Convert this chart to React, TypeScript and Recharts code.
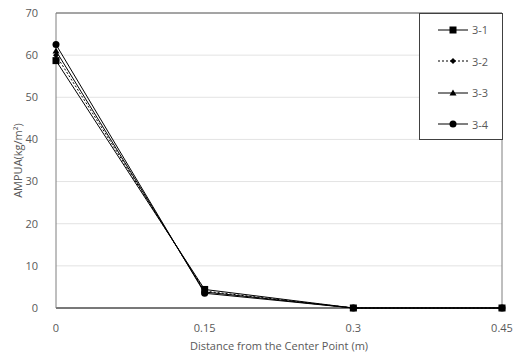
import React from "react";
import {
  LineChart,
  Line,
  XAxis,
  YAxis,
  CartesianGrid,
  ReferenceLine,
} from "recharts";

const distances = [0, 0.15, 0.3, 0.45];
const s31 = [58.7, 4.4, 0, 0];
const s32 = [60.0, 4.0, 0, 0];
const s33 = [61.0, 3.8, 0, 0];
const s34 = [62.5, 3.5, 0, 0];
const xTicks = [0, 0.15, 0.3, 0.45];
const yTicks = [0, 10, 20, 30, 40, 50, 60, 70];

const seriesNames = ["3-1", "3-2", "3-3", "3-4"];
const shapes = ["square", "diamond", "triangle", "circle"];
const dashes = ["", "2 2", "", ""];

const data = distances.map((d, i) => ({
  x: d,
  s1: s31[i],
  s2: s32[i],
  s3: s33[i],
  s4: s34[i],
}));

const FONT = "'Open Sans', 'Noto Sans', sans-serif";
const TEXT = "#595959";

const Marker = ({ shape, cx, cy }: { shape: string; cx: number; cy: number }) => {
  if (shape === "square")
    return <rect x={cx - 3.5} y={cy - 3.5} width={7} height={7} fill="#000" />;
  if (shape === "diamond")
    return (
      <polygon
        points={`${cx},${cy - 3} ${cx + 3},${cy} ${cx},${cy + 3} ${cx - 3},${cy}`}
        fill="#000"
      />
    );
  if (shape === "triangle")
    return (
      <polygon
        points={`${cx},${cy - 3.5} ${cx + 3.5},${cy + 2.5} ${cx - 3.5},${cy + 2.5}`}
        fill="#000"
      />
    );
  return <circle cx={cx} cy={cy} r={3.5} fill="#000" />;
};

const makeDot = (shape: string) => (props: any) => {
  const { cx, cy, index } = props;
  if (cx == null || cy == null) return <g key={index} />;
  return (
    <g key={`${shape}-${index}`}>
      <Marker shape={shape} cx={cx} cy={cy} />
    </g>
  );
};

// legend box drawn over the plot, like the original
const LegendBox = () => (
  <div
    style={{
      position: "absolute",
      left: 419,
      top: 13,
      width: 84,
      height: 127,
      border: "1px solid #404040",
      background: "#fff",
      boxSizing: "border-box",
    }}
  >
    {seriesNames.map((name, i) => (
      <div
        key={name}
        style={{ display: "flex", alignItems: "center", height: 31.5, marginLeft: 17 }}
      >
        <svg width={32} height={10}>
          <line
            x1={1}
            y1={5}
            x2={31}
            y2={5}
            stroke="#000"
            strokeWidth={1}
            strokeDasharray={dashes[i] || undefined}
          />
          <Marker shape={shapes[i]} cx={16} cy={5} />
        </svg>
        <span style={{ fontFamily: FONT, fontSize: 11, color: TEXT, marginLeft: 3 }}>
          {name}
        </span>
      </div>
    ))}
  </div>
);

export default function App() {
  const keys = ["s1", "s2", "s3", "s4"];
  return (
    <div style={{ position: "absolute", left: 0, top: 0, width: 520, height: 354, background: "#fff" }}>
      <LineChart
        width={520}
        height={354}
        data={data}
        margin={{ top: 13, right: 18, left: 0, bottom: 0 }}
      >
        <CartesianGrid vertical={false} stroke="#e3e3e3" />
        <XAxis
          dataKey="x"
          type="number"
          domain={[0, 0.45]}
          ticks={xTicks}
          tickLine={false}
          axisLine={{ stroke: "#000" }}
          tick={{ fill: TEXT, fontSize: 11, fontFamily: FONT }}
          tickMargin={10}
          height={46}
          label={{
            value: "Distance from the Center Point (m)",
            position: "insideBottom",
            offset: 4,
            fill: TEXT,
            fontSize: 11,
            fontFamily: FONT,
          }}
        />
        <YAxis
          type="number"
          domain={[0, 70]}
          ticks={yTicks}
          tickLine={false}
          axisLine={{ stroke: "#7f7f7f" }}
          tick={{ fill: TEXT, fontSize: 11, fontFamily: FONT }}
          tickMargin={12}
          width={56}
          label={{
            value: "AMPUA(kg/m²)",
            angle: -90,
            position: "insideLeft",
            offset: 18,
            style: { textAnchor: "middle" },
            fill: TEXT,
            fontSize: 11,
            fontFamily: FONT,
          }}
        />
        <ReferenceLine y={70} stroke="#595959" strokeWidth={1} />
        <ReferenceLine x={0.45} stroke="#7f7f7f" strokeWidth={1} />
        {keys.map((k, i) => (
          <Line
            key={k}
            dataKey={k}
            name={seriesNames[i]}
            stroke="#000"
            strokeWidth={1}
            strokeDasharray={dashes[i] || undefined}
            dot={makeDot(shapes[i])}
            activeDot={false}
            isAnimationActive={false}
          />
        ))}
      </LineChart>
      <LegendBox />
    </div>
  );
}
